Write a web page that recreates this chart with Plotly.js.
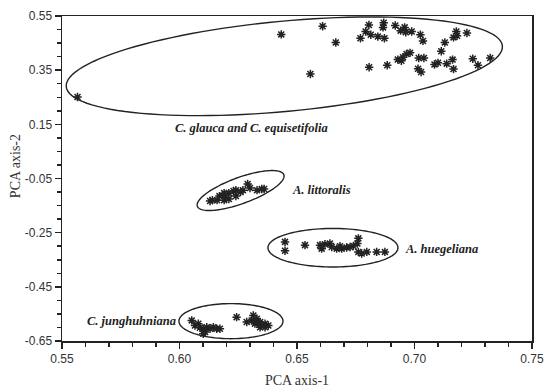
<!DOCTYPE html>
<html>
<head>
<meta charset="utf-8">
<script src="https://cdn.plot.ly/plotly-3.0.1.min.js"></script>
<style>html,body{margin:0;padding:0;background:#fff;}#chart{width:547px;height:388px;}</style>
</head>
<body>
<div id="chart"></div>
<script>
// ---- Data ----
const glaucaX = [0.5566,0.6433,0.6609,0.6665,0.6557,0.6770,0.6792,0.6806,0.6814,0.6844,0.6869,0.6866,0.6872,0.6918,0.6941,0.6958,0.6963,0.6988,0.7025,0.7036,0.6807,0.6884,0.6929,0.6944,0.6951,0.6966,0.6981,0.7018,0.7040,0.7015,0.7028,0.7085,0.7100,0.7114,0.7129,0.7137,0.7162,0.7166,0.7166,0.7178,0.7181,0.7223,0.7248,0.7270,0.7322];
const glaucaY = [0.251,0.482,0.512,0.452,0.336,0.468,0.493,0.517,0.481,0.474,0.525,0.508,0.468,0.515,0.496,0.508,0.490,0.493,0.481,0.458,0.361,0.368,0.389,0.385,0.398,0.410,0.414,0.395,0.395,0.355,0.343,0.371,0.377,0.420,0.452,0.374,0.389,0.354,0.471,0.493,0.477,0.487,0.392,0.368,0.395];

const littoralisX = [0.629,0.630,0.635,0.636,0.633,0.627,0.624,0.623,0.626,0.621,0.619,0.619,0.617,0.614,0.616,0.619,0.621,0.613,0.624];
const littoralisY = [-0.070,-0.085,-0.089,-0.089,-0.093,-0.093,-0.093,-0.096,-0.100,-0.104,-0.104,-0.115,-0.115,-0.130,-0.130,-0.130,-0.126,-0.133,-0.115];

const huegelianaX = [0.6449,0.6449,0.6534,0.6598,0.6605,0.6619,0.6640,0.6648,0.6669,0.6690,0.6711,0.6726,0.6740,0.6761,0.6757,0.6761,0.6775,0.6797,0.6839,0.6874,0.6683];
const huegelianaY = [-0.284,-0.317,-0.296,-0.296,-0.309,-0.293,-0.290,-0.303,-0.309,-0.309,-0.305,-0.303,-0.299,-0.271,-0.290,-0.321,-0.327,-0.321,-0.321,-0.321,-0.300];

const junghX = [0.6052,0.6066,0.6080,0.6087,0.6101,0.6109,0.6116,0.6130,0.6144,0.6158,0.6172,0.6101,0.6243,0.6286,0.6307,0.6314,0.6329,0.6321,0.6343,0.6350,0.6364,0.6378,0.6343,0.6364,0.6329];
const junghY = [-0.574,-0.593,-0.586,-0.601,-0.605,-0.617,-0.599,-0.605,-0.599,-0.605,-0.605,-0.623,-0.562,-0.580,-0.574,-0.556,-0.568,-0.586,-0.580,-0.593,-0.586,-0.593,-0.599,-0.599,-0.580];

// group ellipses: centre and two half-axis vectors, all in data units
const ellCx = [0.6446, 0.6260, 0.6653, 0.6219];
const ellCy = [0.3643, -0.0944, -0.3056, -0.5767];
const ellUx = [0.09279, 0.0184, 0.02766, 0.02213];
const ellUy = [0.07535, 0.0583, 0, 0];
const ellVx = [-0.00178, -0.00189, 0, 0];
const ellVy = [0.16595, 0.04526, 0.0711, 0.0648];

const groupLabels = ['C. glauca and C. equisetifolia', 'A. littoralis', 'A. huegeliana', 'C. junghuhniana'];
const labelX = [0.6306, 0.647, 0.6952, 0.5995];
const labelY = [0.135, -0.094, -0.311, -0.577];

const xTickVals = [0.55, 0.60, 0.65, 0.70, 0.75];
const xTickText = ['0.55', '0.60', '0.65', '0.70', '0.75'];
const yTickVals = [0.55, 0.35, 0.15, -0.05, -0.25, -0.45, -0.65];
const yTickText = ['0.55', '0.35', '0.15', '-0.05', '-0.25', '-0.45', '-0.65'];

// ---- Styling ----
const ink = '#222';
const markerStyle = {symbol: 'asterisk-open', size: 7, color: ink, line: {width: 1.5, color: ink}};

function pts(x, y) {
  return {x: x, y: y, type: 'scatter', mode: 'markers', marker: markerStyle, hoverinfo: 'x+y', showlegend: false};
}
const traces = [pts(glaucaX, glaucaY), pts(littoralisX, littoralisY), pts(huegelianaX, huegelianaY), pts(junghX, junghY)];

function ellipsePath(i) {
  const n = 120;
  let d = '';
  for (let k = 0; k <= n; k++) {
    const t = 2 * Math.PI * k / n;
    const px = ellCx[i] + Math.cos(t) * ellUx[i] + Math.sin(t) * ellVx[i];
    const py = ellCy[i] + Math.cos(t) * ellUy[i] + Math.sin(t) * ellVy[i];
    d += (k === 0 ? 'M' : 'L') + px.toFixed(5) + ',' + py.toFixed(5);
  }
  return d + 'Z';
}
const shapes = ellCx.map((_, i) => ({type: 'path', xref: 'x', yref: 'y', path: ellipsePath(i), line: {color: ink, width: 1.4}, fillcolor: 'rgba(0,0,0,0)'}));

const anchors = ['center', 'left', 'left', 'right'];
const annotations = groupLabels.map((t, i) => ({
  x: labelX[i], y: labelY[i], xref: 'x', yref: 'y', text: '<b><i>' + t + '</i></b>',
  showarrow: false, xanchor: anchors[i], yanchor: 'middle',
  font: {family: 'Liberation Serif, Times New Roman, serif', size: 12.5, color: ink}
}));

const tickFont = {family: 'Liberation Sans, Arial, sans-serif', size: 12, color: '#333'};
const titleFont = {family: 'Liberation Serif, Times New Roman, serif', size: 14, color: '#333'};

// y-axis title placed as a rotated annotation (it sits slightly above the plot centre)
annotations.push({
  xref: 'paper', yref: 'paper', x: -0.1, y: 0.538, text: 'PCA axis-2', textangle: -90,
  showarrow: false, xanchor: 'center', yanchor: 'middle', font: titleFont
});

const layout = {
  width: 547, height: 388,
  margin: {l: 62, r: 15, t: 16, b: 47},
  paper_bgcolor: '#fff', plot_bgcolor: '#fff',
  showlegend: false,
  xaxis: {
    range: [0.55, 0.75], tickvals: xTickVals, ticktext: xTickText,
    ticks: 'outside', ticklen: 6, tickwidth: 1.5, tickcolor: ink,
    minor: {tick0: 0.55, dtick: 0.01, ticks: 'outside', ticklen: 4, tickwidth: 1.5, tickcolor: ink, showgrid: false},
    showline: true, linewidth: 1.5, linecolor: ink, mirror: true,
    showgrid: false, zeroline: false, tickfont: tickFont,
    title: {text: 'PCA axis-1', font: titleFont, standoff: 14}
  },
  yaxis: {
    range: [-0.65, 0.55], tickvals: yTickVals, ticktext: yTickText,
    ticks: 'outside', ticklen: 6, tickwidth: 1.5, tickcolor: ink,
    minor: {tick0: 0.55, dtick: 0.05, ticks: 'outside', ticklen: 4, tickwidth: 1.5, tickcolor: ink, showgrid: false},
    showline: true, linewidth: 1.5, linecolor: ink, mirror: true,
    showgrid: false, zeroline: false, tickfont: tickFont
  },
  shapes: shapes,
  annotations: annotations
};

Plotly.newPlot('chart', traces, layout, {displayModeBar: false, staticPlot: true});
</script>
</body>
</html>
